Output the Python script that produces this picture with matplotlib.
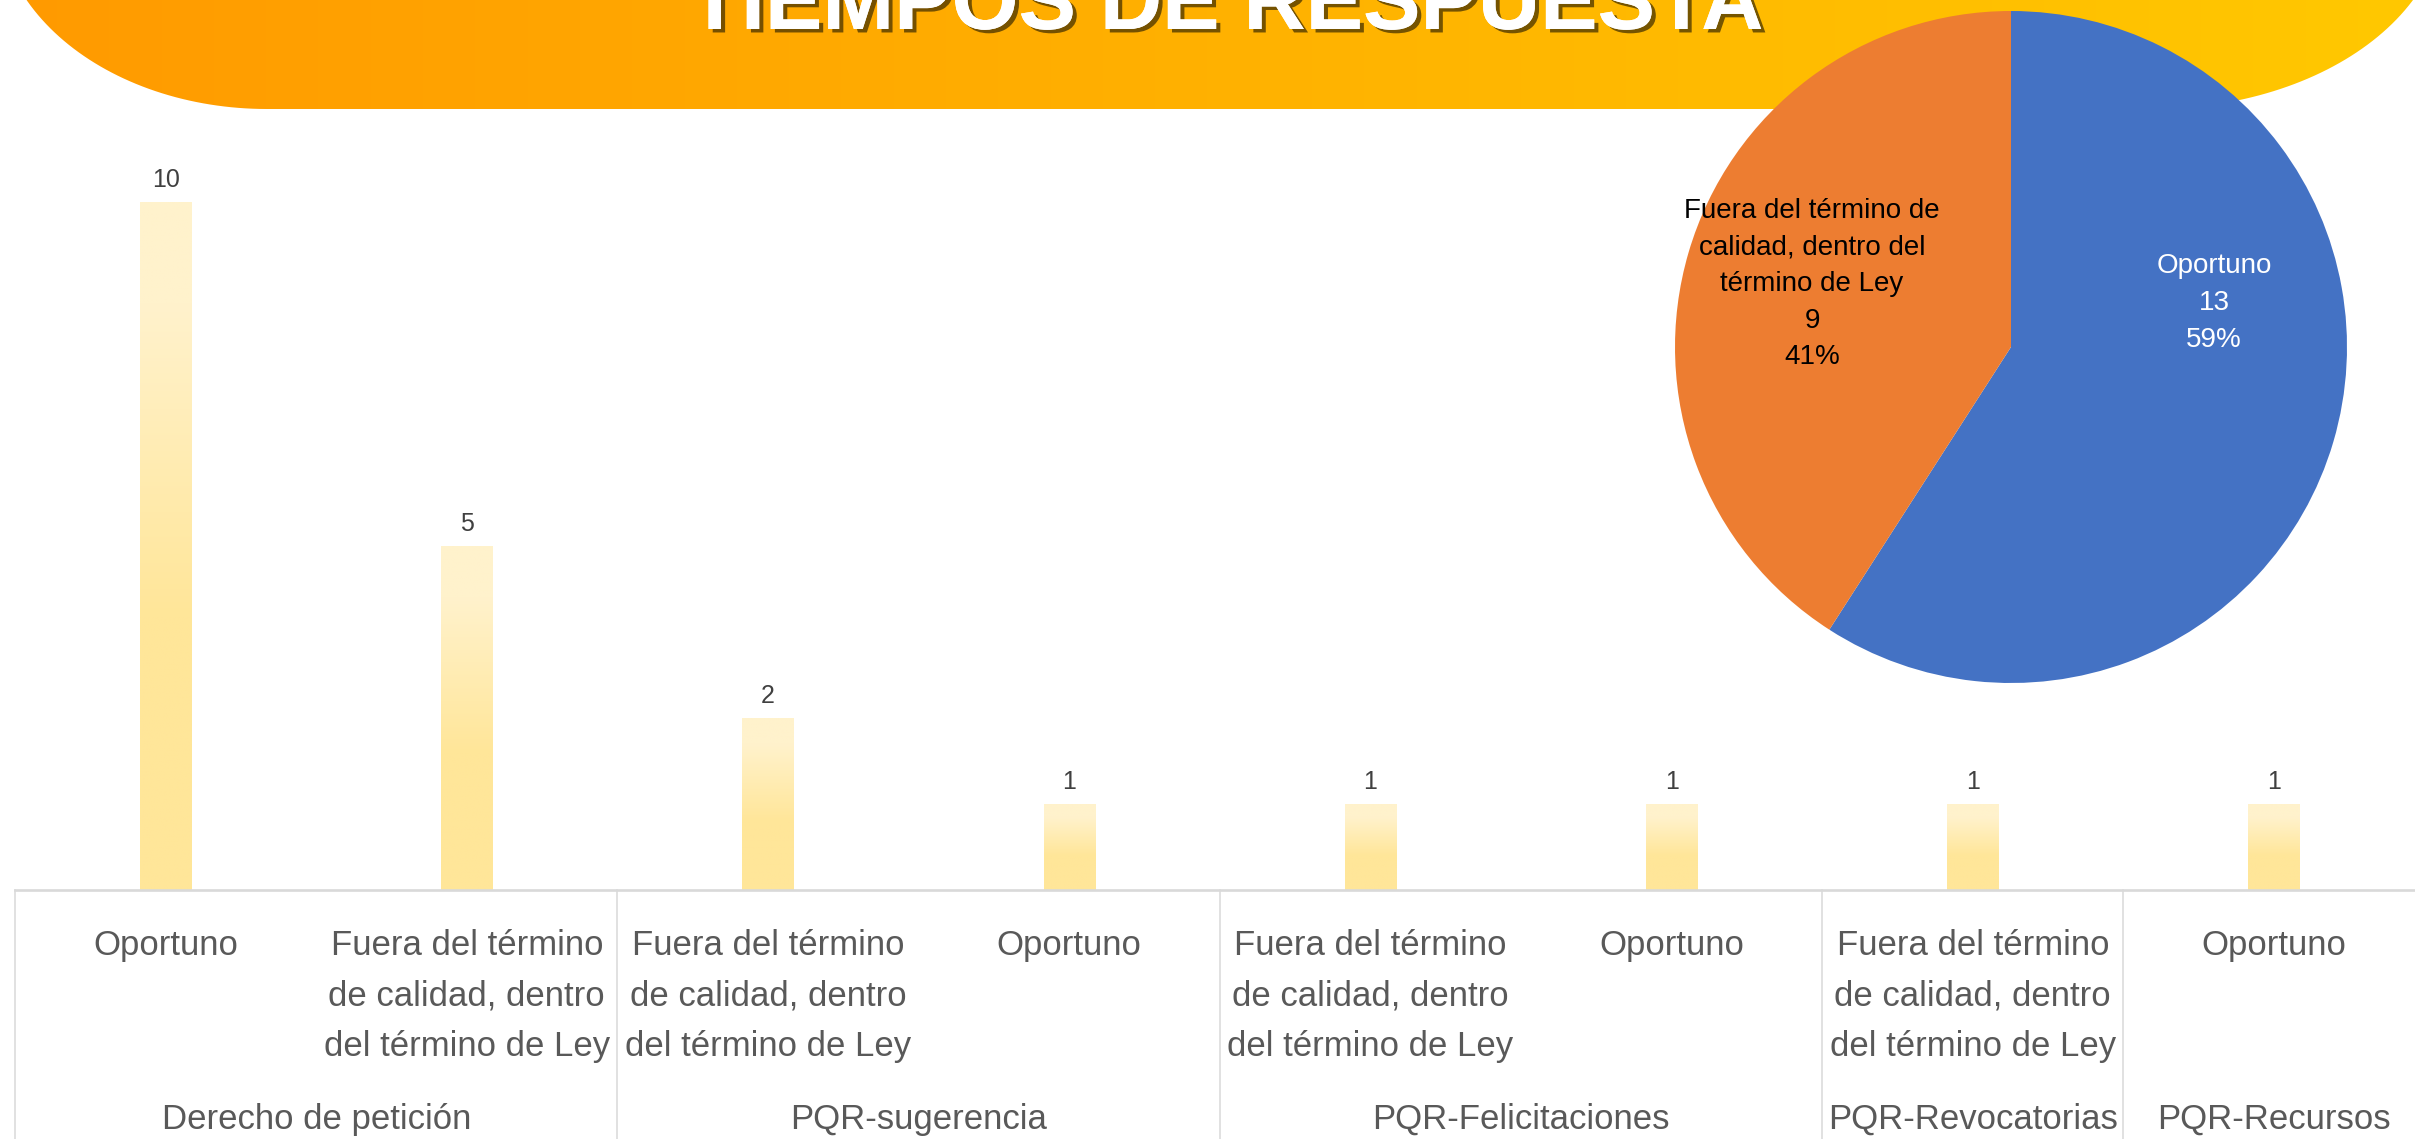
import numpy as np
import matplotlib
matplotlib.use('Agg')
import matplotlib.pyplot as plt
import matplotlib.patheffects as pe
from matplotlib.path import Path
from matplotlib.patches import PathPatch

# datos del grafico de barras
categorias = ['Oportuno', 'Fuera del término\nde calidad, dentro\ndel término de Ley',
              'Fuera del término\nde calidad, dentro\ndel término de Ley', 'Oportuno',
              'Fuera del término\nde calidad, dentro\ndel término de Ley', 'Oportuno',
              'Fuera del término\nde calidad, dentro\ndel término de Ley', 'Oportuno']
valores = [10, 5, 2, 1, 1, 1, 1, 1]
# alto de las barras tal como se ven en la imagen
alturas = [10, 5, 2.5, 1.25, 1.25, 1.25, 1.25, 1.25]
grupos = ['Derecho de petición', 'PQR-sugerencia', 'PQR-Felicitaciones', 'PQR-Revocatorias', 'PQR-Recursos']
grupo_tam = [2, 2, 2, 1, 1]

# datos del grafico circular
pie_labels = ['Oportuno', 'Fuera del término de\ncalidad, dentro del\ntérmino de Ley']
pie_vals = [13, 9]

titulo = 'TIEMPOS DE RESPUESTA'

W, H = 2415, 1139
fig = plt.figure(figsize=(W / 100, H / 100), dpi=100)

# fondo / banner en coordenadas de pixel
bg = fig.add_axes([0, 0, 1, 1], zorder=0)
bg.set_xlim(0, W)
bg.set_ylim(H, 0)
bg.axis('off')

def arco(cx, cy, rx, ry, a0, a1, n=60):
    t = np.linspace(np.radians(a0), np.radians(a1), n)
    return np.column_stack([cx + rx * np.cos(t), cy + ry * np.sin(t)])

pts = [(-3, -300)]
pts += list(arco(267, -91, 270, 200, 180, 90))
pts += list(arco(2153, -91, 292, 200, 90, 0))
pts += [(2445, -300), (-3, -300)]
banner = PathPatch(Path(pts), facecolor='none', edgecolor='none')
bg.add_patch(banner)
c0 = np.array([255, 154, 0]) / 255
c1 = np.array([255, 200, 0]) / 255
tt = np.linspace(0, 1, 256)
grad = (c0[None, :] * (1 - tt[:, None]) + c1[None, :] * tt[:, None])[None, :, :]
img = bg.imshow(grad, extent=(0, W, 120, -300), aspect='auto', interpolation='bilinear')
img.set_clip_path(banner)
bg.set_xlim(0, W)
bg.set_ylim(H, 0)

bg.text(1226, 29, titulo, ha='center', va='baseline', fontsize=62, fontweight='bold',
        family=['Liberation Sans'], color='white',
        path_effects=[pe.withSimplePatchShadow(offset=(3, -2.5), shadow_rgbFace='#3a2a00', alpha=0.7),
                      pe.Normal()])

# grafico de barras
slot = 301.2
x0 = 15
ax = fig.add_axes([x0 / W, (H - 890) / H, 8 * slot / W, 688 / H], zorder=1)
ax.patch.set_alpha(0)
x = np.arange(len(valores))
ancho = 0.17
pale = np.array([255, 242, 204]) / 255
full = np.array([255, 230, 153]) / 255
tg = np.linspace(0, 1, 200)
mix = np.clip((tg - 0.15) / 0.45, 0, 1)
bar_grad = (pale[None, :] * (1 - mix[:, None]) + full[None, :] * mix[:, None])[:, None, :]
for xi, h, v in zip(x, alturas, valores):
    ax.imshow(bar_grad, extent=(xi - ancho / 2, xi + ancho / 2, 0, h), aspect='auto',
              origin='upper', interpolation='bilinear', zorder=2)
    ax.annotate(str(v), (xi, h), xytext=(0, 15), textcoords='offset pixels', ha='center',
                va='baseline', fontsize=18, color='#404040', family=['Liberation Sans'])
ax.set_xlim(-0.5, 7.5)
ax.set_ylim(0, 10)
ax.axis('off')
ax.axhline(0, color='#D9D9D9', lw=1.9, zorder=3, clip_on=False)

trans = ax.get_xaxis_transform()
fondo = -(H - 890) / 688 - 0.05
limites = np.concatenate([[0], np.cumsum(grupo_tam)]) - 0.5
for b in limites:
    ax.plot([b, b], [0, fondo], transform=trans, color='#D9D9D9', lw=1.1, clip_on=False)

y_cat = -(929 - 890) / 688
for xi, c in zip(x, categorias):
    ax.text(xi, y_cat, c, transform=trans, ha='center', va='top', multialignment='center',
            fontsize=25, color='#595959', linespacing=1.68, family=['Liberation Sans'])
y_grp = -(1129 - 890) / 688
for i, g in enumerate(grupos):
    xc = (limites[i] + limites[i + 1]) / 2
    ax.text(xc, y_grp, g, transform=trans, ha='center', va='baseline', fontsize=25,
            color='#595959', family=['Liberation Sans'])

# grafico circular
cx, cy, r = 2011, 347, 336
axp = fig.add_axes([(cx - r) / W, (H - cy - r) / H, 2 * r / W, 2 * r / H], zorder=2)
axp.pie(pie_vals, colors=['#4472C4', '#ED7D31'], startangle=90, counterclock=False,
        radius=1, wedgeprops=dict(linewidth=0))
axp.set_xlim(-1, 1)
axp.set_ylim(-1, 1)
axp.set_aspect('equal')
axp.axis('off')
total = sum(pie_vals)
pos = [(0.604, 0.131), (-0.592, 0.1875)]
tcol = ['white', 'black']
for (px, py), lab, v, col in zip(pos, pie_labels, pie_vals, tcol):
    axp.text(px, py, '%s\n%d\n%d%%' % (lab, v, round(100 * v / total)), ha='center', va='center',
             fontsize=20, color=col, linespacing=1.53, family=['Liberation Sans'])

fig.savefig('out.png', dpi=100)
